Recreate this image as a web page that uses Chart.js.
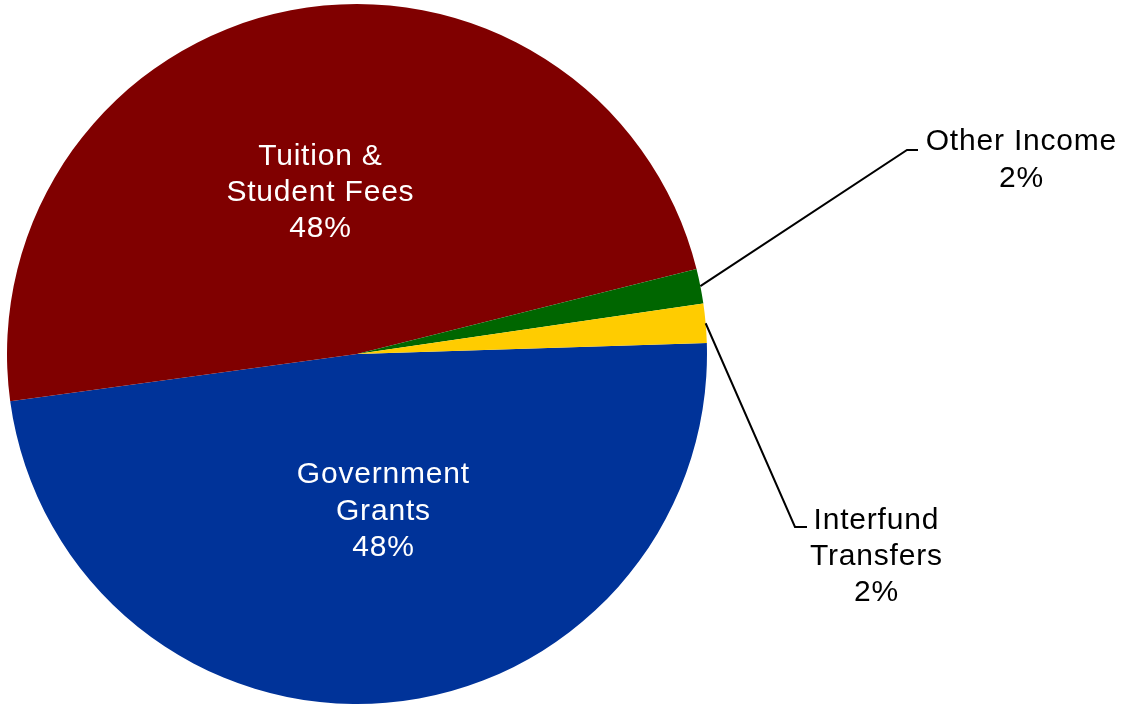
<!DOCTYPE html>
<html>
<head>
<meta charset="utf-8">
<script src="https://cdn.jsdelivr.net/npm/chart.js@4"></script>
<style>
  html, body { margin: 0; padding: 0; background: #ffffff; }
  #wrap { width: 1129px; height: 704px; position: relative; }
</style>
</head>
<body>
<div id="wrap"><canvas id="c" width="1129" height="704"></canvas></div>
<script>
// ---- data ----
const categories = ["Government Grants", "Tuition & Student Fees", "Other Income", "Interfund Transfers"];
const shares = [48.3, 48.2, 1.6, 1.8];
const labelLines = [
  ["Government", "Grants", "48%"],
  ["Tuition &", "Student Fees", "48%"],
  ["Other Income", "2%"],
  ["Interfund", "Transfers", "2%"]
];
const colors = ["#003399", "#800000", "#006600", "#FFCC00"];

// label layout (annotation positions)
const labelStyle = [
  { kind: "inside", x: 383, baselines: [483, 520, 556], color: "#ffffff" },
  { kind: "inside", x: 320, baselines: [165, 201, 237], color: "#ffffff" },
  { kind: "outside", x: 1021, baselines: [150, 187], color: "#000000", elbow: [907, 150], end: [918, 150] },
  { kind: "outside", x: 876, baselines: [529, 565, 601], color: "#000000", elbow: [795, 527], end: [807, 527] }
];

const labelPlugin = {
  id: "sliceLabels",
  afterDatasetsDraw(chart) {
    const ctx = chart.ctx;
    const meta = chart.getDatasetMeta(0);
    ctx.save();
    meta.data.forEach((arc, i) => {
      const st = labelStyle[i];
      if (st.kind === "outside") {
        const p = arc.getProps(["x", "y", "startAngle", "endAngle", "outerRadius"], true);
        const mid = (p.startAngle + p.endAngle) / 2;
        const sx = p.x + Math.cos(mid) * p.outerRadius;
        const sy = p.y + Math.sin(mid) * p.outerRadius;
        ctx.beginPath();
        ctx.strokeStyle = "#000000";
        ctx.lineWidth = 2;
        ctx.lineJoin = "miter";
        ctx.moveTo(sx, sy);
        ctx.lineTo(st.elbow[0], st.elbow[1]);
        ctx.lineTo(st.end[0], st.end[1]);
        ctx.stroke();
      }
      ctx.fillStyle = st.color;
      ctx.font = "30px 'Liberation Sans', Arial, sans-serif";
      ctx.textAlign = "center";
      ctx.textBaseline = "alphabetic";
      try { ctx.letterSpacing = "0.8px"; } catch (e) {}
      labelLines[i].forEach((t, j) => {
        ctx.fillText(t, st.x + 0.4, st.baselines[j]);
      });
    });
    ctx.restore();
  }
};

new Chart(document.getElementById("c"), {
  type: "pie",
  data: {
    labels: categories,
    datasets: [{
      data: shares,
      backgroundColor: colors,
      borderWidth: 0,
      hoverOffset: 0
    }]
  },
  options: {
    responsive: false,
    animation: false,
    rotation: 88.2,
    layout: { padding: { left: 7, top: 4, right: 422, bottom: 0 } },
    plugins: {
      legend: { display: false },
      tooltip: { enabled: false }
    }
  },
  plugins: [labelPlugin]
});
</script>
</body>
</html>
